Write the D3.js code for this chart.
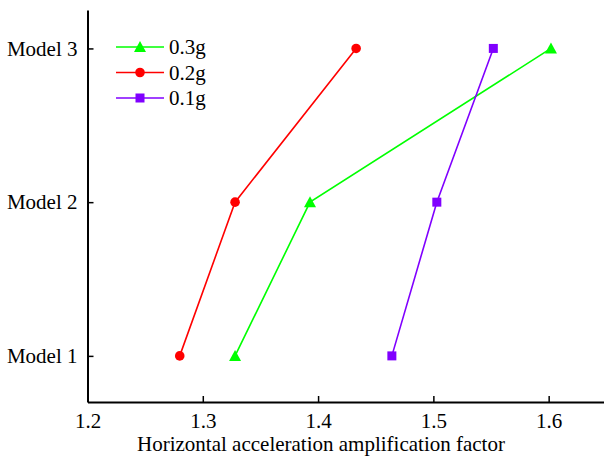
<!DOCTYPE html>
<html>
<head>
<meta charset="utf-8">
<script src="https://cdn.jsdelivr.net/npm/d3@7"></script>
<style>
  body { margin: 0; background: #fff; }
  svg { display: block; }
  text { font-family: "Liberation Serif", "Times New Roman", serif; fill: #000; }
</style>
</head>
<body>
<div id="chart"></div>
<script>
// Set the categories and series
const models = ["Model 1", "Model 2", "Model 3"];
const xTicks = [1.2, 1.3, 1.4, 1.5, 1.6];
const series = ["0.3g", "0.2g", "0.1g"];
const colors = ["#00ff00", "#ff0000", "#8000ff"];
const shapes = ["triangle", "circle", "square"];

// amplification factor per model (Model 1..3)
const g03 = [1.328, 1.393, 1.602];
const g02 = [1.280, 1.328, 1.433];
const g01 = [1.464, 1.503, 1.552];
const values = [g03, g02, g01];

// set the dimensions
const W = 604, H = 457;
const margin = {top: 10, right: 0, bottom: 55, left: 87.5};
const fs = 21;

const svg = d3.select("#chart")
  .append("svg")
    .attr("width", W)
    .attr("height", H);

// scales
const x = d3.scaleLinear().domain([1.2, 1.648]).range([margin.left, W - margin.right]);
const y = d3.scaleLinear().domain([0.7, 3.25]).range([H - margin.bottom, margin.top]);

// x axis, ticks pointing inward
const gx = svg.append("g")
  .attr("transform", `translate(0,${H - margin.bottom})`)
  .call(d3.axisBottom(x).tickValues(xTicks).tickFormat(d3.format(".1f")).tickSizeInner(-6).tickSizeOuter(0).tickPadding(11));
gx.select(".domain").attr("stroke-width", 2);
gx.selectAll(".tick line").attr("stroke-width", 1.5);
gx.selectAll(".tick text").attr("font-size", fs);

// y axis
const gy = svg.append("g")
  .attr("transform", `translate(${margin.left},0)`)
  .call(d3.axisLeft(y).tickValues([1, 2, 3]).tickFormat(function(d) { return models[d - 1]; }).tickSizeInner(-6).tickSizeOuter(0).tickPadding(10));
gy.select(".domain").attr("stroke-width", 2);
gy.selectAll(".tick line").attr("stroke-width", 1.5);
gy.selectAll(".tick text").attr("font-size", fs);

// axis title
svg.append("text")
  .attr("x", 321)
  .attr("y", 451)
  .attr("text-anchor", "middle")
  .attr("font-size", fs)
  .text("Horizontal acceleration amplification factor");

// marker drawing helper
function marker(g, shape, color, cx, cy) {
  if (shape === "circle") {
    g.append("circle").attr("cx", cx).attr("cy", cy).attr("r", 4.8).attr("fill", color);
  } else if (shape === "square") {
    g.append("rect").attr("x", cx - 4.5).attr("y", cy - 4.5).attr("width", 9).attr("height", 9).attr("fill", color);
  } else {
    g.append("path")
      .attr("d", `M${cx},${cy - 6}L${cx + 6},${cy + 5}L${cx - 6},${cy + 5}Z`)
      .attr("fill", color);
  }
}

const line = d3.line()
  .x(function(d) { return x(d); })
  .y(function(d, i) { return y(i + 1); });

// draw the series
values.forEach(function(vals, s) {
  const g = svg.append("g");
  g.append("path")
    .attr("d", line(vals))
    .attr("fill", "none")
    .attr("stroke", colors[s])
    .attr("stroke-width", 1.6);
  vals.forEach(function(v, i) {
    marker(g, shapes[s], colors[s], x(v), y(i + 1));
  });
});

// legend
const legend = svg.append("g");
series.forEach(function(name, s) {
  const ly = 47 + s * 25.5;
  legend.append("line")
    .attr("x1", 116).attr("x2", 164)
    .attr("y1", ly).attr("y2", ly)
    .attr("stroke", colors[s]).attr("stroke-width", 1.6);
  marker(legend, shapes[s], colors[s], 140, ly);
  legend.append("text")
    .attr("x", 169).attr("y", ly + 7)
    .attr("font-size", fs)
    .text(name);
});
</script>
</body>
</html>
